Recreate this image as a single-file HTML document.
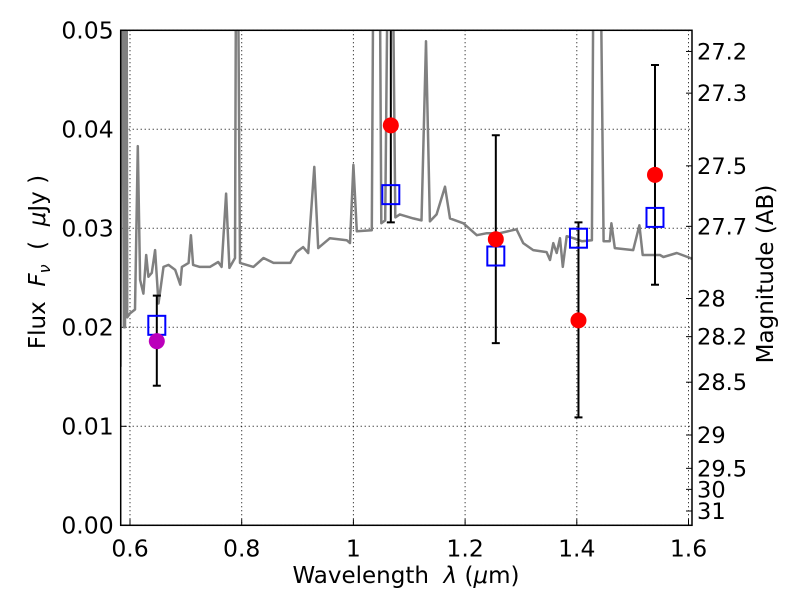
<!DOCTYPE html>
<html><head><meta charset="utf-8"><style>
body{margin:0;background:#fff;}
svg text{font-family:"DejaVu Sans","Liberation Sans",sans-serif;white-space:pre;}
</style></head><body>
<svg id="c" width="800" height="600" xmlns="http://www.w3.org/2000/svg"></svg>
<script>
const xTicks=[0.6,0.8,1.0,1.2,1.4,1.6];
const xTickLabels=["0.6","0.8","1","1.2","1.4","1.6"];
const yTicks=[0,0.01,0.02,0.03,0.04,0.05];
const yTickLabels=["0.00","0.01","0.02","0.03","0.04","0.05"];
const magTicks=[27.2,27.3,27.5,27.7,28,28.2,28.5,29,29.5,30,31];
const magTickLabels=["27.2","27.3","27.5","27.7","28","28.2","28.5","29","29.5","30","31"];
const specLam=[0.583,0.585,0.587,0.589,0.591,0.592,0.594,0.595,0.600,0.609,0.614,0.618,0.624,0.629,0.633,0.639,0.645,0.651,0.660,0.669,0.681,0.690,0.693,0.705,0.709,0.713,0.725,0.743,0.758,0.764,0.772,0.778,0.788,0.790,0.793,0.797,0.821,0.839,0.857,0.887,0.898,0.910,0.919,0.930,0.937,0.958,0.988,0.994,1.000,1.006,1.033,1.036,1.047,1.050,1.057,1.062,1.070,1.075,1.083,1.107,1.122,1.130,1.137,1.149,1.164,1.173,1.197,1.221,1.239,1.262,1.292,1.304,1.322,1.346,1.352,1.358,1.364,1.370,1.375,1.382,1.394,1.409,1.427,1.430,1.442,1.448,1.459,1.462,1.468,1.501,1.512,1.518,1.549,1.555,1.579,1.603,1.611];
const specFlux=[0.016,0.06,0.06,0.020,0.020,0.06,0.06,0.021,0.0214,0.0218,0.0383,0.0248,0.0234,0.0273,0.0251,0.0255,0.0278,0.0224,0.0261,0.0263,0.0258,0.0243,0.0261,0.0265,0.0293,0.0263,0.0261,0.0261,0.0266,0.0261,0.0335,0.0260,0.0270,0.06,0.06,0.0265,0.0261,0.0270,0.0265,0.0265,0.0276,0.0281,0.0275,0.0362,0.0280,0.0290,0.0288,0.0285,0.0364,0.0297,0.0298,0.06,0.06,0.0305,0.0308,0.06,0.06,0.0311,0.0314,0.0310,0.0308,0.0489,0.0307,0.0314,0.0342,0.0310,0.0305,0.0293,0.0295,0.0295,0.0299,0.0285,0.0278,0.0276,0.0268,0.0285,0.0275,0.0290,0.0261,0.0292,0.0290,0.0287,0.0288,0.06,0.06,0.0287,0.0287,0.0305,0.0280,0.0278,0.0303,0.0273,0.0273,0.0271,0.0275,0.0270,0.0268];
const bandLam=[0.648,1.067,1.255,1.403,1.540];
const obsFlux=[0.0186,0.0404,0.0289,0.0207,0.0354];
const obsColors=["#bb00bb","#ff0000","#ff0000","#ff0000","#ff0000"];
const modelFlux=[0.0202,0.0334,0.0272,0.0290,0.0311];
const errLow=[0.0141,0.0306,0.0184,0.0109,0.0243];
const errHigh=[0.0232,0.06,0.0394,0.0306,0.0465];

const L=120.7,R=692,T=30.3,B=525.3;
const X=v=>130+(v-0.6)*558.5;
const Y=v=>B-v*9900;
const NS="http://www.w3.org/2000/svg";
const svg=document.getElementById('c');
function mk(t,a,p){const e=document.createElementNS(NS,t);for(const k in a)e.setAttribute(k,a[k]);(p||svg).appendChild(e);return e;}
const defs=mk('defs',{});const cp=mk('clipPath',{id:'clip'},defs);mk('rect',{x:L,y:T,width:R-L,height:B-T},cp);

xTicks.forEach((t,i)=>{const g=mk('line',{x1:X(t),x2:X(t),y1:T,y2:B,stroke:'#000','stroke-width':1,'stroke-dasharray':'1,3'});


mk('line',{x1:X(t),x2:X(t),y1:B,y2:B-6,stroke:'#000'});
const tl=mk('text',{x:X(t),y:B+31,'font-size':23.5,'text-anchor':'middle'});tl.textContent=xTickLabels[i];

});
yTicks.forEach((t,i)=>{const g=mk('line',{x1:L,x2:R,y1:Y(t),y2:Y(t),stroke:'#000','stroke-width':1,'stroke-dasharray':'1,3'});


mk('line',{x1:L,x2:L+6,y1:Y(t),y2:Y(t),stroke:'#000'});
const tl=mk('text',{x:L-7,y:Y(t)+8,'font-size':23.5,'text-anchor':'end'});tl.textContent=yTickLabels[i];

});
magTicks.forEach((m,i)=>{const f=Math.pow(10,(23.9-m)/2.5);const y=Y(f);
mk('line',{x1:R,x2:R-6,y1:y,y2:y,stroke:'#000'});
const tl=mk('text',{x:R+5,y:y+8,'font-size':22.5,'text-anchor':'start'});tl.textContent=magTickLabels[i];

});

const g=mk('g',{'clip-path':'url(#clip)'});
let d='';specLam.forEach((l,i)=>{d+=(i?'L':'M')+X(l).toFixed(1)+','+Y(specFlux[i]).toFixed(1);});
const sp=mk('path',{d:d,fill:'none',stroke:'#808080','stroke-width':2.5,'stroke-linejoin':'round'},g);



bandLam.forEach((l,i)=>{const eb=mk('g',{},g);


mk('line',{x1:X(l),x2:X(l),y1:Y(errLow[i]),y2:Y(errHigh[i]),stroke:'#000','stroke-width':2},eb);
mk('line',{x1:X(l)-4,x2:X(l)+4,y1:Y(errLow[i]),y2:Y(errLow[i]),stroke:'#000','stroke-width':2},eb);
mk('line',{x1:X(l)-4,x2:X(l)+4,y1:Y(errHigh[i]),y2:Y(errHigh[i]),stroke:'#000','stroke-width':2},eb);});
bandLam.forEach((l,i)=>{const s=mk('rect',{x:X(l)-8.5,y:Y(modelFlux[i])-9.5,width:17,height:19,fill:'none',stroke:'#0000ff','stroke-width':2},g);

});
bandLam.forEach((l,i)=>{const c=mk('circle',{cx:X(l),cy:Y(obsFlux[i]),r:8,fill:obsColors[i]},g);

});

const fr=mk('rect',{x:L,y:T,width:R-L,height:B-T,fill:'none',stroke:'#000','stroke-width':1.5});



const xl=mk('text',{x:406,y:583,'font-size':23,'text-anchor':'middle'});
xl.innerHTML='Wavelength  <tspan font-style="italic">λ</tspan> (<tspan font-style="italic">μ</tspan>m)';


const yl=mk('text',{x:0,y:0,'font-size':23,'text-anchor':'middle',transform:'translate(45,262) rotate(-90)'});
yl.innerHTML='Flux  <tspan font-style="italic">F</tspan><tspan font-style="italic" font-size="16" dy="5">ν</tspan><tspan dy="-5">  (  </tspan><tspan font-style="italic">μ</tspan>Jy )';


const rl=mk('text',{x:0,y:0,'font-size':23,'text-anchor':'middle',transform:'translate(773,274) rotate(-90)'});
rl.textContent='Magnitude (AB)';


</script>
</body></html>
